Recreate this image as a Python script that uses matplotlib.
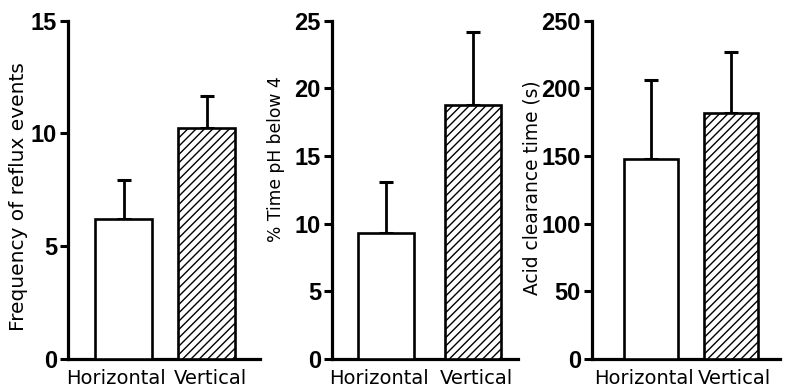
import matplotlib
matplotlib.use("Agg")
import matplotlib.pyplot as plt

categories = ["Horizontal", "Vertical"]

reflux_freq = [6.2, 10.25]
reflux_freq_err = [1.75, 1.4]

time_ph4 = [9.3, 18.8]
time_ph4_err = [3.8, 5.35]

acid_clear = [148, 182]
acid_clear_err = [58, 45]

ylabels = ["Frequency of reflux events", "% Time pH below 4", "Acid clearance time (s)"]
yticks = [[0, 5, 10, 15], [0, 5, 10, 15, 20, 25], [0, 50, 100, 150, 200, 250]]
ylims = [15, 25, 250]

W, H = 785, 391
fig = plt.figure(figsize=(W / 100, H / 100), dpi=100)
plt.rcParams['hatch.linewidth'] = 1.0

# pixel layout: (axis left, axis right, first bar center, bar spacing, bar width px,
#                ylabel right edge x, ylabel center y, ylabel size)
layout = [
    (68, 260, 123.5, 83.0, 57, 28, 197, 14.5),
    (332, 518, 386.0, 86.5, 56, 285, 159, 12.3),
    (592, 780, 651.0, 79.5, 54, 541, 188, 13.4),
]
label_offsets_px = [-7, 4]
top_px, bot_px = 20.7, 359.0

data = [(reflux_freq, reflux_freq_err), (time_ph4, time_ph4_err), (acid_clear, acid_clear_err)]
tick_font = dict(family=['Liberation Sans Narrow', 'Liberation Sans', 'DejaVu Sans'], weight='bold', size=17)
label_font = dict(family=['DejaVu Sans'], size=14)

for i, (vals, errs) in enumerate(data):
    l, r, c0, sp, bw, ylx, yly, yls = layout[i]
    ax = fig.add_axes([l / W, 1 - bot_px / H, (r - l) / W, (bot_px - top_px) / H])
    x = [0, 1]
    ax.bar(x, vals, width=bw / sp, color=['white', 'white'], edgecolor='black',
           linewidth=1.9, hatch=[None, '////'], zorder=3, clip_on=False)
    ax.errorbar(x, vals, yerr=[[0, 0], errs], fmt='none', ecolor='black',
                elinewidth=2.0, capsize=4.7, capthick=2.2, zorder=2, clip_on=False)
    ax.set_xlim((l - c0) / sp, (r - c0) / sp)
    ax.set_ylim(0, ylims[i])
    ax.set_yticks(yticks[i])
    ax.set_yticklabels([str(t) for t in yticks[i]], fontdict=tick_font)
    ax.set_xticks([xi + o / sp for xi, o in zip(x, label_offsets_px)])
    ax.set_xticklabels(categories, fontdict=label_font)
    ax.tick_params(axis='x', length=0, pad=7)
    ax.tick_params(axis='y', length=6, width=2.2, pad=2, direction='out')
    for s in ['top', 'right']:
        ax.spines[s].set_visible(False)
    for s in ['left', 'bottom']:
        ax.spines[s].set_linewidth(2.3)
    ax.set_ylabel(ylabels[i], family='DejaVu Sans', size=yls)
    ax.yaxis.set_label_coords((ylx - l) / (r - l), (bot_px - yly) / (bot_px - top_px))
    ax.patch.set_alpha(0)

fig.savefig("out.png", dpi=100)
